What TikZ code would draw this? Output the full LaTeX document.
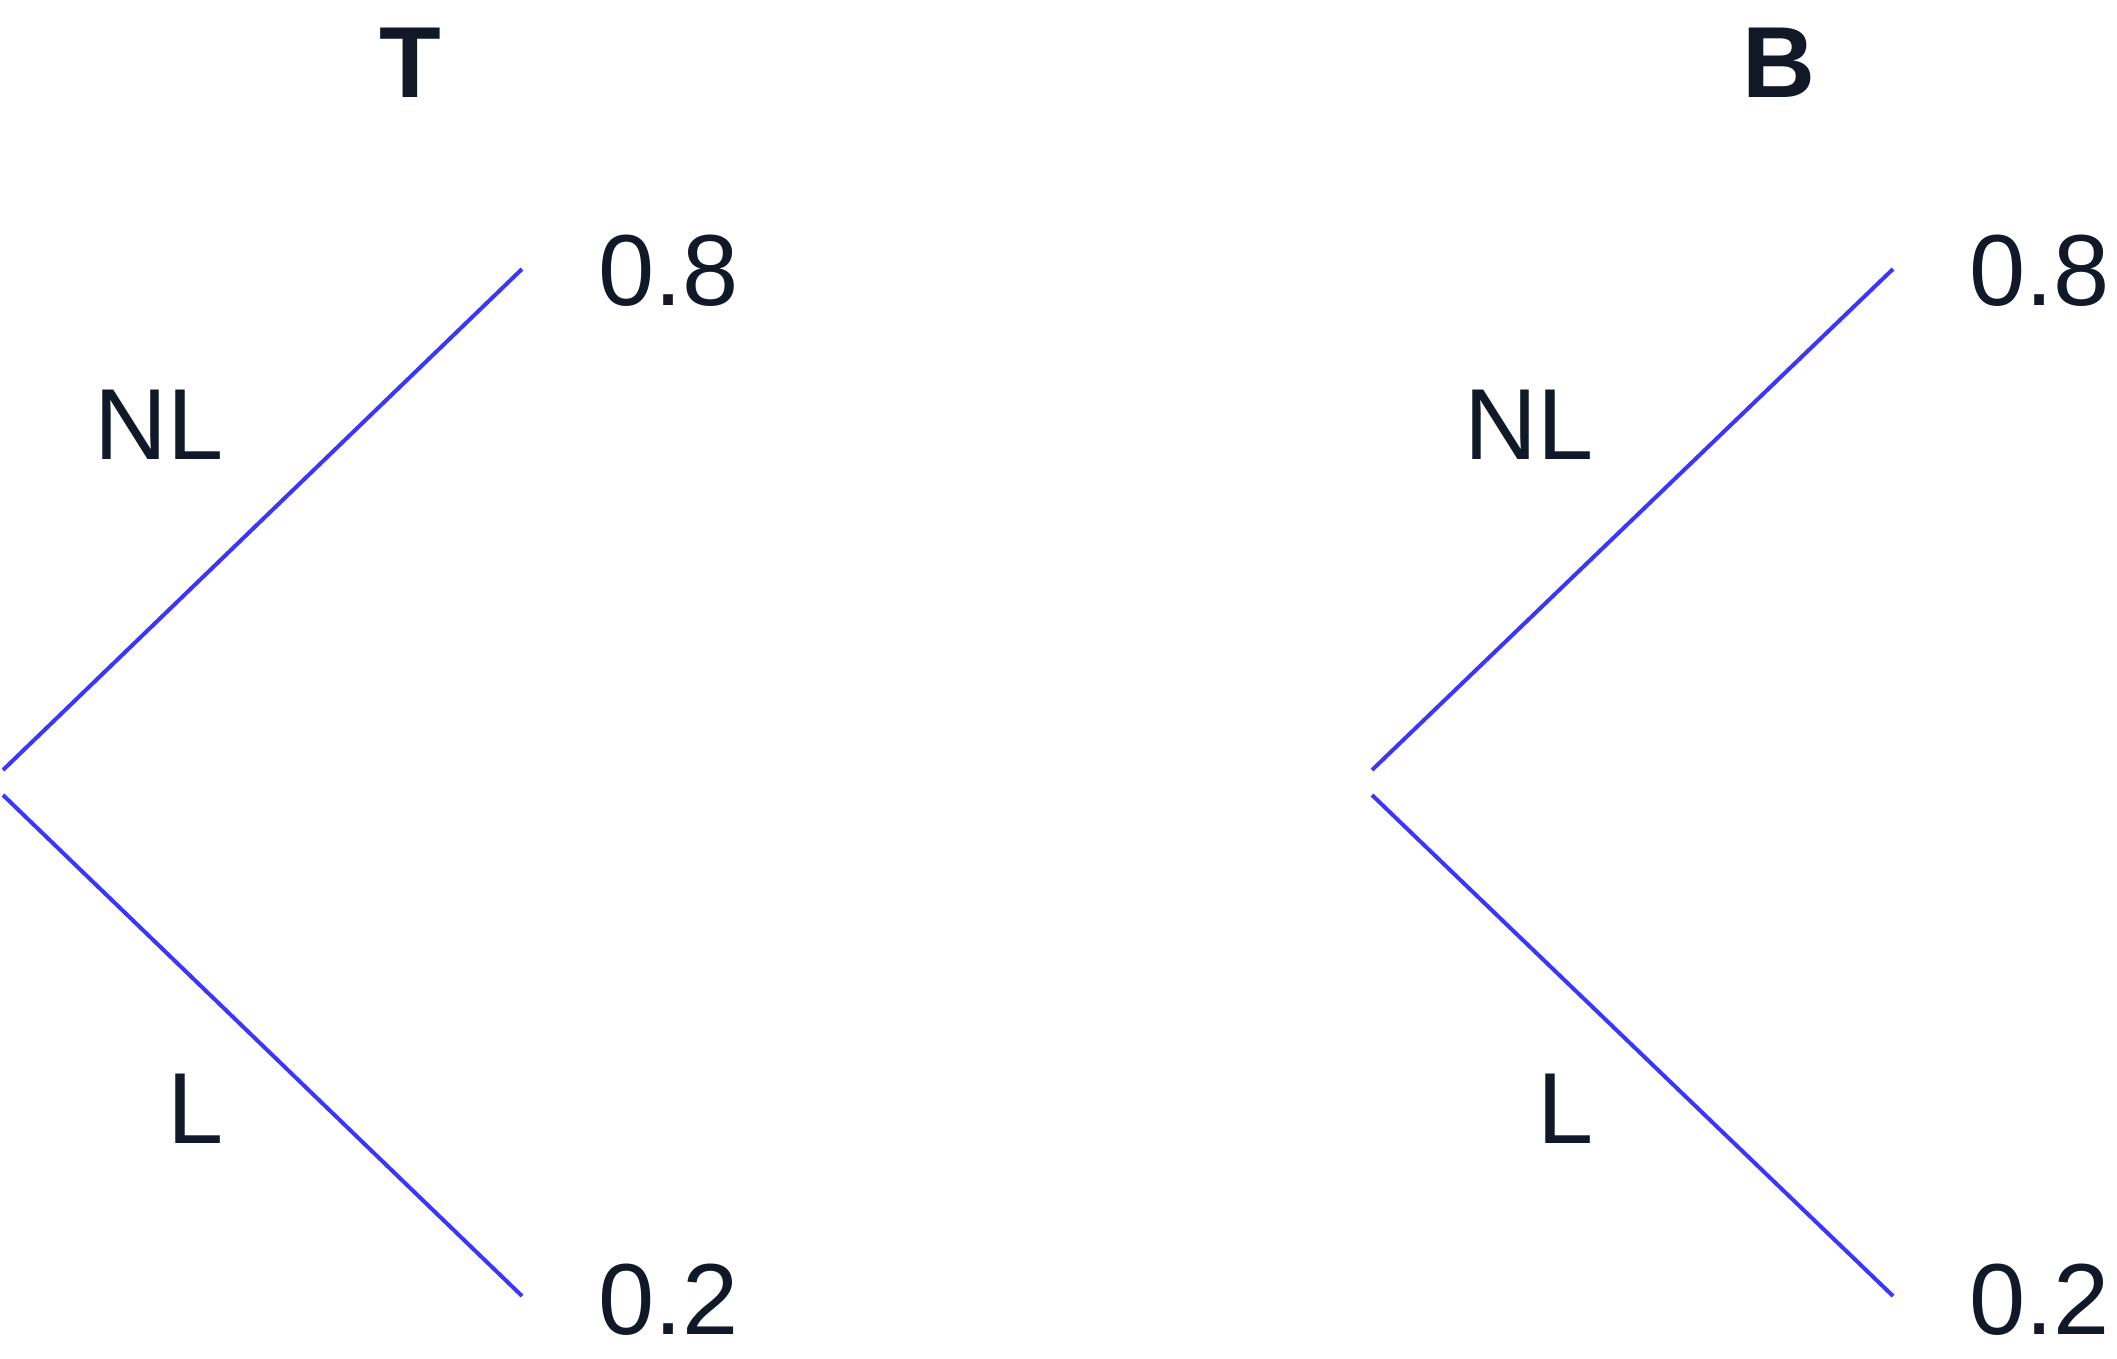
\documentclass[tikz,border=0pt]{standalone}
\usepackage{fontspec}
\setmainfont{Liberation Sans}
\definecolor{ink}{HTML}{111827}
\definecolor{branch}{HTML}{3A35FF}
\begin{document}
\begin{tikzpicture}[x=1pt,y=-1pt,
  lbl/.style={text=ink,font=\fontsize{101}{120}\selectfont,inner sep=0pt},
  head/.style={text=ink,font=\fontsize{101}{120}\selectfont\bfseries,inner sep=0pt},
  branchline/.style={draw=branch,line width=4pt}]
\useasboundingbox (0,0) rectangle (2117,1358);
% left tree
\coordinate (lu0) at (3,770);
\coordinate (lu1) at (522,269);
\coordinate (ll0) at (3,795);
\coordinate (ll1) at (522,1296);
\draw[branchline] (lu0) -- (lu1);
\draw[branchline] (ll0) -- (ll1);
\node[head,anchor=base] (T) at (410,97) {T};
\node[lbl,anchor=base west] (lp1) at (598,305) {0.8};
\node[lbl,anchor=base west] (lp2) at (598,1334) {0.2};
\node[lbl,anchor=base east] (lnl) at (224,459) {NL};
\node[lbl,anchor=base east] (ll) at (224,1143) {L};
% right tree
\coordinate (ru0) at (1372,770);
\coordinate (ru1) at (1893,269);
\coordinate (rl0) at (1372,795);
\coordinate (rl1) at (1893,1296);
\draw[branchline] (ru0) -- (ru1);
\draw[branchline] (rl0) -- (rl1);
\node[head,anchor=base] (B) at (1779,97) {B};
\node[lbl,anchor=base west] (rp1) at (1969,305) {0.8};
\node[lbl,anchor=base west] (rp2) at (1969,1334) {0.2};
\node[lbl,anchor=base east] (rnl) at (1594,459) {NL};
\node[lbl,anchor=base east] (rl) at (1594,1143) {L};
\end{tikzpicture}
\end{document}
